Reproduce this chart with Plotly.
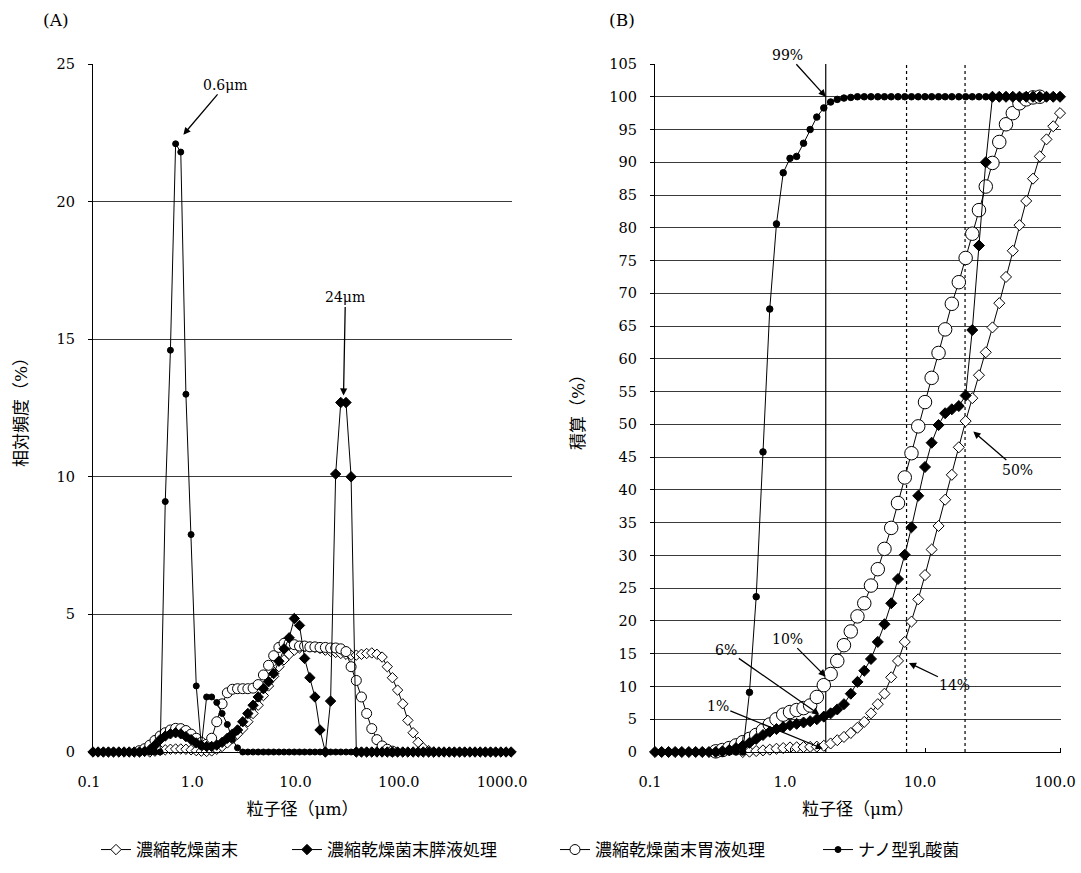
import math
import plotly.graph_objects as go

# ---------------- data ----------------
size_um = [0.100, 0.112, 0.126, 0.141, 0.158, 0.178, 0.200, 0.224, 0.251, 0.282,
           0.316, 0.355, 0.398, 0.447, 0.501, 0.562, 0.631, 0.708, 0.794, 0.891,
           1.00, 1.12, 1.26, 1.41, 1.58, 1.78, 2.00, 2.24, 2.51, 2.82,
           3.16, 3.55, 3.98, 4.47, 5.01, 5.62, 6.31, 7.08, 7.94, 8.91,
           10.0, 11.2, 12.6, 14.1, 15.8, 17.8, 20.0, 22.4, 25.1, 28.2,
           31.6, 35.5, 39.8, 44.7, 50.1, 56.2, 63.1, 70.8, 79.4, 89.1,
           100, 112, 126, 141, 158, 178, 200, 224, 251, 282,
           316, 355, 398, 447, 501, 562, 631, 708, 794, 891,
           1000, 1120]

# (A) relative frequency (%)
freq_powder = [None, None, None, None, None, None, None, None, None, None,
               None, 0.0, 0.03, 0.06, 0.08, 0.1, 0.11, 0.11, 0.1, 0.08,
               0.05, 0.03, 0.02, 0.04, 0.1, 0.2, 0.33, 0.48, 0.65, 0.85,
               1.1, 1.4, 1.7, 2.05, 2.4, 2.75, 3.1, 3.35, 3.55, 3.7,
               3.78, 3.82, 3.82, 3.8, 3.76, 3.7, 3.66, 3.62, 3.58, 3.55,
               3.52, 3.52, 3.55, 3.58, 3.6, 3.55, 3.45, 3.1, 2.7, 2.25,
               1.75, 1.15, 0.7, 0.35, 0.15, 0.05, 0.0, None, None, None,
               None, None, None, None, None, None, None, None, None, None,
               None, None]
freq_pancreatic = [0, 0, 0, 0, 0, 0, 0, 0, 0, 0,
                   0.02, 0.08, 0.25, 0.45, 0.58, 0.66, 0.7, 0.66, 0.56, 0.45,
                   0.33, 0.24, 0.2, 0.2, 0.25, 0.35, 0.5, 0.65, 0.8, 1.1,
                   1.4, 1.7, 2.0, 2.3, 2.55, 2.85, 3.3, 3.75, 4.15, 4.85,
                   4.6, 3.4, 2.7, 2.0, 0.8, 0.0, 1.85, 10.1, 12.7, 12.7,
                   10.0, 0, 0, 0, 0, 0, 0, 0, 0, 0,
                   0, 0, 0, 0, 0, 0, 0, 0, 0, 0,
                   0, 0, 0, 0, 0, 0, 0, 0, 0, 0,
                   0, 0]
freq_gastric = [None, None, None, None, None, None, None, None, None, 0.05,
                0.12, 0.25, 0.42, 0.58, 0.7, 0.8, 0.86, 0.85, 0.78, 0.65,
                0.5, 0.35, 0.28, 0.5, 1.1, 1.75, 2.15, 2.28, 2.3, 2.3,
                2.3, 2.32, 2.45, 2.8, 3.15, 3.5, 3.8, 3.95, 3.95, 3.9,
                3.85, 3.85, 3.82, 3.82, 3.8, 3.8, 3.78, 3.78, 3.75, 3.65,
                3.1, 2.6, 2.0, 1.4, 0.85, 0.45, 0.22, 0.1, 0.03, None,
                None, None, None, None, None, None, None, None, None, None,
                None, None, None, None, None, None, None, None, None, None,
                None, None]
freq_nano = [0, 0, 0, 0, 0, 0, 0, 0, 0, 0,
             0, 0, 0, 0, 9.1, 14.6, 22.1, 21.8, 13.0, 7.9,
             2.4, 0.2, 2.0, 2.0, 1.8, 1.4, 1.0, 0.45, 0.15, 0,
             0, 0, 0, 0, 0, 0, 0, 0, 0, 0,
             0, 0, 0, 0, 0, 0, 0, 0, 0, 0,
             0, 0, 0, 0, 0, 0, 0, 0, 0, 0,
             0, 0, 0, 0, 0, 0, 0, 0, 0, 0,
             0, 0, 0, 0, 0, 0, 0, 0, 0, 0,
             0, 0]

# (B) cumulative (%), sizes 0.1 - 100 um
cum_powder = [None, None, None, None, None, None, None, None, None, None,
              None, None, None, 0.0, 0.05, 0.15, 0.25, 0.36, 0.5, 0.6,
              0.7, 0.72, 0.75, 0.78, 0.82, 0.95, 1.3, 1.8, 2.3, 2.9,
              3.7, 4.6, 5.9, 7.3, 8.9, 11.4, 13.9, 16.8, 19.9, 23.3,
              27.0, 30.9, 34.5, 38.5, 42.3, 46.5, 50.5, 54.0, 57.5, 61.0,
              64.8, 68.5, 72.5, 76.5, 80.4, 84.1, 87.5, 90.9, 93.5, 95.5,
              97.5]
cum_pancreatic = [0, 0, 0, 0, 0, 0, 0, 0, 0, 0,
                  0.1, 0.3, 0.6, 0.95, 1.4, 2.0, 2.6, 3.1, 3.5, 3.8,
                  4.1, 4.3, 4.5, 4.7, 5.0, 5.4, 5.9, 6.5, 7.3, 8.9,
                  10.7, 12.4, 14.2, 16.8, 19.5, 22.7, 26.4, 30.1, 34.3, 39.1,
                  43.5, 47.2, 49.9, 51.7, 52.3, 52.8, 54.4, 64.4, 77.3, 90.0,
                  100, 100, 100, 100, 100, 100, 100, 100, 100, 100,
                  100]
cum_gastric = [None, None, None, None, None, None, None, None, None, 0.1,
               0.3, 0.6, 1.0, 1.5, 2.0, 2.6, 3.3, 4.2, 5.0, 5.7,
               6.1, 6.4, 6.7, 7.1, 8.4, 10.2, 11.9, 13.9, 16.3, 18.4,
               20.7, 22.7, 25.4, 27.9, 31.0, 34.2, 38.0, 41.9, 45.6, 49.7,
               53.4, 57.1, 60.9, 64.5, 68.4, 71.7, 75.4, 79.1, 82.7, 86.3,
               89.9, 93.1, 95.8, 97.5, 99.0, 99.6, 99.9, 100, None, None,
               None]
cum_nano = [0, 0, 0, 0, 0, 0, 0, 0, 0, 0,
            0, 0, 0, 0, 9.1, 23.7, 45.8, 67.6, 80.6, 88.4,
            90.6, 90.9, 92.9, 95.0, 96.9, 98.3, 99.2, 99.6, 99.8, 99.9,
            100, 100, 100, 100, 100, 100, 100, 100, 100, 100,
            100, 100, 100, 100, 100, 100, 100, 100, 100, 100,
            100, 100, 100, 100, 100, 100, 100, 100, 100, 100,
            100]

series_names = ["濃縮乾燥菌末", "濃縮乾燥菌末膵液処理", "濃縮乾燥菌末胃液処理", "ナノ型乳酸菌"]

x_tickvals_A = [0.1, 1, 10, 100, 1000]
x_ticktext_A = ["0.1", "1.0", "10.0", "100.0", "1000.0"]
x_tickvals_B = [0.1, 1, 10, 100]
x_ticktext_B = ["0.1", "1.0", "10.0", "100.0"]
y_tickvals_A = [0, 5, 10, 15, 20, 25]
y_tickvals_B = [0, 5, 10, 15, 20, 25, 30, 35, 40, 45, 50, 55, 60, 65, 70, 75,
                80, 85, 90, 95, 100, 105]

ref_line_solid_B = 1.84          # 99 % line
ref_lines_dotted_B = [7.3, 19.8]  # 14 % and 50 % lines

callouts_A = [("0.6μm", 0.631, 22.1), ("24μm", 26.6, 12.7)]
callouts_B = [("99%", 1.84, 100.0), ("10%", 1.84, 11.5), ("6%", 1.65, 5.7),
              ("1%", 1.75, 0.5), ("14%", 7.6, 13.6), ("50%", 22.8, 48.9)]

# ---------------- figure ----------------
W, H = 1081, 873


def fx(p):
    return p / W


def fy(p):
    return 1 - p / H


NUMFONT = "DejaVu Serif, Noto Sans CJK JP"
JPFONT = "Noto Sans CJK JP"

styles = [
    dict(symbol="diamond", fill="white", sizeA=8, sizeB=8.5),
    dict(symbol="diamond", fill="black", sizeA=8, sizeB=8.5),
    dict(symbol="circle", fill="white", sizeA=10, sizeB=13.5),
    dict(symbol="circle", fill="black", sizeA=6, sizeB=6.5),
]
freqs = [freq_powder, freq_pancreatic, freq_gastric, freq_nano]
cums = [cum_powder, cum_pancreatic, cum_gastric, cum_nano]
legend_ids = ["legend", "legend2", "legend3", "legend4"]
draw_order = [0, 2, 1, 3]

fig = go.Figure()

# reference lines in (B)
fig.add_trace(go.Scatter(x=[ref_line_solid_B, ref_line_solid_B], y=[0, 105.5],
                         mode="lines", line=dict(color="black", width=1.2),
                         xaxis="x2", yaxis="y2", showlegend=False,
                         hoverinfo="skip", cliponaxis=False))
for v in ref_lines_dotted_B:
    fig.add_trace(go.Scatter(x=[v, v], y=[0, 105.5], mode="lines",
                             line=dict(color="black", width=1.2, dash="dot"),
                             xaxis="x2", yaxis="y2", showlegend=False,
                             hoverinfo="skip", cliponaxis=False))

for k in draw_order:
    st = styles[k]
    fig.add_trace(go.Scatter(
        x=size_um, y=freqs[k], mode="lines+markers", name=series_names[k],
        line=dict(color="black", width=1),
        marker=dict(symbol=st["symbol"], size=st["sizeA"], color=st["fill"],
                    line=dict(color="black", width=1)),
        xaxis="x", yaxis="y", legend=legend_ids[k], cliponaxis=False))
    fig.add_trace(go.Scatter(
        x=size_um[:len(cums[k])], y=cums[k], mode="lines+markers",
        name=series_names[k], showlegend=False,
        line=dict(color="black", width=1),
        marker=dict(symbol=st["symbol"], size=st["sizeB"], color=st["fill"],
                    line=dict(color="black", width=1)),
        xaxis="x2", yaxis="y2", cliponaxis=False))

axis_common = dict(color="black", linecolor="black", linewidth=1.2,
                   tickfont=dict(family=NUMFONT, size=14.5, color="black"),
                   zeroline=False, automargin=False)

ydom = [fy(752), fy(64)]

fig.update_layout(
    width=W, height=H,
    margin=dict(l=0, r=0, t=0, b=0, autoexpand=False),
    paper_bgcolor="white", plot_bgcolor="white",
    font=dict(family=NUMFONT, size=14, color="black"),
    xaxis=dict(domain=[fx(93), fx(512)], type="log", range=[-1, 3.058],
               anchor="y", showgrid=False, showline=True,
               tickvals=x_tickvals_A, ticktext=x_ticktext_A, ticks="",
               ticklabelstandoff=16, ticklabelshift=-4,
               title=dict(text="粒子径（μm）", standoff=14,
                          font=dict(family=NUMFONT, size=17)),
               **axis_common),
    yaxis=dict(domain=ydom, range=[0, 25], anchor="x", showgrid=True,
               gridcolor="#3a3a3a", gridwidth=1, showline=True,
               tickvals=y_tickvals_A, ticks="outside", ticklen=4,
               ticklabelstandoff=10,
               title=dict(text="相対頻度（%）", standoff=24,
                          font=dict(family=NUMFONT, size=17)),
               **axis_common),
    xaxis2=dict(domain=[fx(655), fx(1061)], type="log", range=[-1, 2.0074],
                anchor="y2", showgrid=False, showline=True,
                tickvals=x_tickvals_B, ticktext=x_ticktext_B,
                ticks="inside", ticklen=4, ticklabelstandoff=16,
                ticklabelshift=-5,
                title=dict(text="粒子径（μm）", standoff=14,
                           font=dict(family=NUMFONT, size=17)),
                **axis_common),
    yaxis2=dict(domain=ydom, range=[0, 105], anchor="x2", showgrid=True,
                gridcolor="#3a3a3a", gridwidth=1, showline=True,
                tickvals=y_tickvals_B, ticks="outside", ticklen=4,
                ticklabelstandoff=10,
                title=dict(text="積算（%）", standoff=20,
                           font=dict(family=NUMFONT, size=17)),
                **axis_common),
)

legend_x_px = [96, 287, 555, 818]
for lid, xp in zip(legend_ids, legend_x_px):
    fig.layout[lid] = dict(x=fx(xp), y=fy(850), xanchor="left",
                           yanchor="middle", orientation="h",
                           bgcolor="rgba(0,0,0,0)", borderwidth=0,
                           font=dict(family=JPFONT, size=17, color="black"))

annotations = []
offsets_A = [(50, -59, 12), (2, -105, 7)]
for (txt, xv, yv), (ax, ay, so) in zip(callouts_A, offsets_A):
    annotations.append(dict(x=math.log10(xv), y=yv, xref="x", yref="y",
                            text=txt, showarrow=True, ax=ax, ay=ay,
                            arrowhead=2, arrowsize=1.1, arrowwidth=1.3,
                            arrowcolor="black", standoff=so,
                            font=dict(family=NUMFONT, size=14, color="black")))
offsets_B = [(-38, -42, 0), (-38, -38, 0), (-93, -65, 0), (-105, -43, 0),
             (46, 22, 0), (44, 38, 0)]
for (txt, xv, yv), (ax, ay, so) in zip(callouts_B, offsets_B):
    annotations.append(dict(x=math.log10(xv), y=yv, xref="x2", yref="y2",
                            text=txt, showarrow=True, ax=ax, ay=ay,
                            arrowhead=2, arrowsize=1.1, arrowwidth=1.3,
                            arrowcolor="black", standoff=so,
                            font=dict(family=NUMFONT, size=14, color="black")))
annotations.append(dict(x=fx(56), y=fy(20), xref="paper", yref="paper",
                        text="(A)", showarrow=False, xanchor="center",
                        yanchor="middle",
                        font=dict(family=NUMFONT, size=17, color="black")))
annotations.append(dict(x=fx(622), y=fy(20), xref="paper", yref="paper",
                        text="(B)", showarrow=False, xanchor="center",
                        yanchor="middle",
                        font=dict(family=NUMFONT, size=17, color="black")))
fig.update_layout(annotations=annotations)

fig.write_html("out.html",
               config={"displayModeBar": False},
               post_script="document.body.style.margin='0';")
